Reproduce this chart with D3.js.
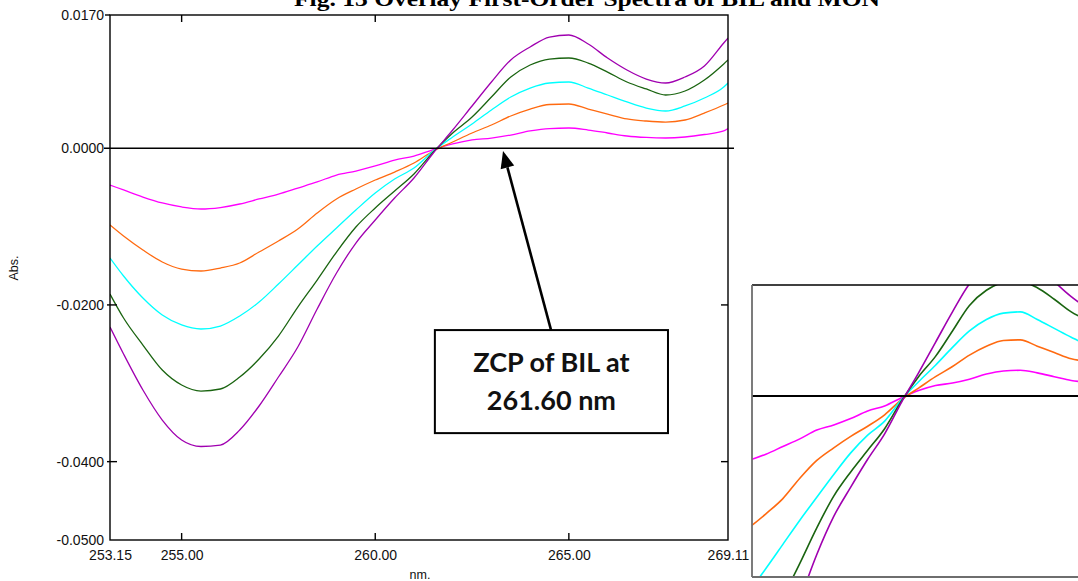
<!DOCTYPE html>
<html>
<head>
<meta charset="utf-8">
<script src="https://cdn.jsdelivr.net/npm/d3@7"></script>
<style>
  body { margin: 0; background: #fff; }
  svg { display: block; }
</style>
</head>
<body>
<svg id="chart" width="1078" height="581"></svg>
<script>
// Wavelength grid (nm) and first-order derivative absorbance of each solution
const wavelengths = [253.15, 253.5, 254.0, 254.5, 255.0, 255.5, 256.0, 256.5, 257.0, 257.5,
  258.0, 258.5, 259.0, 259.5, 260.0, 260.5, 261.0, 261.5, 262.0, 262.5,
  263.0, 263.5, 264.0, 264.5, 265.0, 265.5, 266.0, 266.5, 267.0, 267.5,
  268.0, 268.5, 269.0, 269.11];

const spectrum1 = [-0.00470, -0.00533, -0.00623, -0.00699, -0.00750, -0.00776, -0.00757, -0.00712, -0.00648, -0.00585,
  -0.00508, -0.00431, -0.00342, -0.00291, -0.00227, -0.00151, -0.00100, -0.00017, 0.00054, 0.00105,
  0.00130, 0.00168, 0.00220, 0.00251, 0.00258, 0.00232, 0.00194, 0.00156, 0.00137, 0.00130,
  0.00143, 0.00175, 0.00220, 0.00251];

const spectrum2 = [-0.00980, -0.01121, -0.01299, -0.01452, -0.01542, -0.01567, -0.01529, -0.01465, -0.01325, -0.01184,
  -0.01031, -0.00827, -0.00648, -0.00521, -0.00406, -0.00304, -0.00189, -0.00036, 0.00079, 0.00194,
  0.00296, 0.00411, 0.00500, 0.00558, 0.00564, 0.00500, 0.00436, 0.00373, 0.00347, 0.00334,
  0.00360, 0.00449, 0.00551, 0.00577];

const spectrum3 = [-0.01401, -0.01631, -0.01912, -0.02129, -0.02256, -0.02307, -0.02269, -0.02141, -0.01963, -0.01733,
  -0.01491, -0.01248, -0.01018, -0.00789, -0.00572, -0.00393, -0.00253, -0.00036, 0.00143, 0.00309,
  0.00488, 0.00653, 0.00768, 0.00832, 0.00845, 0.00768, 0.00679, 0.00590, 0.00513, 0.00475,
  0.00539, 0.00641, 0.00781, 0.00832];

const spectrum4 = [-0.01861, -0.02167, -0.02512, -0.02831, -0.03022, -0.03099, -0.03073, -0.02920, -0.02690, -0.02397,
  -0.02027, -0.01682, -0.01325, -0.01006, -0.00763, -0.00546, -0.00329, -0.00048, 0.00194, 0.00398,
  0.00653, 0.00909, 0.01062, 0.01138, 0.01151, 0.01087, 0.00972, 0.00845, 0.00756, 0.00679,
  0.00730, 0.00870, 0.01075, 0.01126];

const spectrum5 = [-0.02282, -0.02626, -0.03086, -0.03469, -0.03724, -0.03807, -0.03788, -0.03596, -0.03290, -0.02920,
  -0.02537, -0.02052, -0.01593, -0.01210, -0.00916, -0.00636, -0.00380, -0.00061, 0.00232, 0.00539,
  0.00845, 0.01126, 0.01292, 0.01419, 0.01445, 0.01330, 0.01151, 0.00998, 0.00883, 0.00832,
  0.00909, 0.01049, 0.01343, 0.01406];

const seriesColors = ["#ff00ff", "#ff6a10", "#00ffff", "#1a6410", "#a000b0"];

const xTickValues = [253.15, 255.00, 260.00, 265.00, 269.11];
const yTickValues = [0.0170, 0.0000, -0.0200, -0.0400, -0.0500];

const titleText = "Fig. 13 Overlay First-Order Spectra of BIL and MON";
const xAxisLabel = "nm.";
const yAxisLabel = "Abs.";
const calloutLines = ["ZCP of BIL at", "261.60 nm"];

// ---- layout ----
const plot = { left: 110, right: 728, top: 15, bottom: 540 };
const inset = { left: 752, right: 1078, top: 285, bottom: 577 };

const svg = d3.select("#chart");
const allSeries = [spectrum1, spectrum2, spectrum3, spectrum4, spectrum5]
  .map((vals, i) => ({ color: seriesColors[i], points: wavelengths.map((w, j) => [w, vals[j]]) }));

const x = d3.scaleLinear().domain([253.15, 269.11]).range([plot.left, plot.right]);
const y = d3.scaleLinear().domain([-0.05, 0.017]).range([plot.bottom, plot.top]);

// Title (runs up against the top edge of the page)
svg.append("text")
  .attr("x", 294).attr("y", 6)
  .attr("textLength", 586).attr("lengthAdjust", "spacingAndGlyphs")
  .style("font-family", "'Liberation Serif', 'Times New Roman', serif")
  .style("font-weight", "bold").style("font-size", "21px")
  .text(titleText);

// Clip for the main plot
const defs = svg.append("defs");
defs.append("clipPath").attr("id", "mainClip").append("rect")
  .attr("x", plot.left).attr("y", plot.top)
  .attr("width", plot.right - plot.left).attr("height", plot.bottom - plot.top);

const line = d3.line().x(d => x(d[0])).y(d => y(d[1])).curve(d3.curveMonotoneX);

svg.append("g").attr("clip-path", "url(#mainClip)")
  .selectAll("path").data(allSeries).join("path")
  .attr("d", d => line(d.points))
  .attr("fill", "none").attr("stroke", d => d.color).attr("stroke-width", 1.3);

// Zero line
svg.append("line")
  .attr("x1", plot.left - 6).attr("x2", plot.right + 6)
  .attr("y1", y(0)).attr("y2", y(0))
  .attr("stroke", "#000").attr("stroke-width", 1.4);

// Frame
svg.append("rect")
  .attr("x", plot.left).attr("y", plot.top)
  .attr("width", plot.right - plot.left).attr("height", plot.bottom - plot.top)
  .attr("fill", "none").attr("stroke", "#000").attr("stroke-width", 1.4);

// Axis labels via d3 axes (tick marks drawn separately); plain hyphen for negatives
const labelFont = "'Liberation Sans', Arial, sans-serif";
const fmtY = v => d3.format(".4f")(v).replace("\u2212", "-");
const fmtX = v => d3.format(".2f")(v);
const yAxis = svg.append("g").attr("transform", `translate(${plot.left},0)`)
  .call(d3.axisLeft(y).tickValues(yTickValues).tickFormat(fmtY).tickSize(0).tickPadding(6));
const xAxis = svg.append("g").attr("transform", `translate(0,${plot.bottom})`)
  .call(d3.axisBottom(x).tickValues(xTickValues).tickFormat(fmtX).tickSize(0).tickPadding(10));
[yAxis, xAxis].forEach(g => {
  g.select(".domain").remove();
  g.selectAll("text").style("font-family", labelFont).style("font-size", "14px").attr("fill", "#111");
});

// Tick marks
function tick(x1, y1, x2, y2) {
  svg.append("line").attr("x1", x1).attr("y1", y1).attr("x2", x2).attr("y2", y2)
    .attr("stroke", "#000").attr("stroke-width", 1.4);
}
[-0.02, -0.04].forEach(v => { tick(plot.left - 3, y(v), plot.left + 7, y(v)); tick(plot.right - 7, y(v), plot.right, y(v)); });
[0.017].forEach(v => tick(plot.left - 5, y(v), plot.left, y(v)));
[255, 260, 265].forEach(v => { tick(x(v), plot.bottom, x(v), plot.bottom - 7); tick(x(v), plot.top, x(v), plot.top + 7); });

// Axis titles
svg.append("text").attr("x", (plot.left + plot.right) / 2 + 1).attr("y", 579)
  .attr("text-anchor", "middle")
  .style("font-family", labelFont).style("font-size", "12.5px").attr("fill", "#111")
  .text(xAxisLabel);
svg.append("text").attr("transform", `translate(18,268) rotate(-90)`)
  .attr("text-anchor", "middle")
  .style("font-family", labelFont).style("font-size", "12.5px").attr("fill", "#111")
  .text(yAxisLabel);

// Callout box and arrow pointing at the zero-crossing wavelength
const box = { x0: 261.54, x1: 267.56, y0: -0.02321, y1: -0.03636 };
const arrowTail = [264.54, box.y0];
const arrowTip = [263.30, -0.00035];

svg.append("rect")
  .attr("x", x(box.x0)).attr("y", y(box.y0))
  .attr("width", x(box.x1) - x(box.x0)).attr("height", y(box.y1) - y(box.y0))
  .attr("fill", "#fff").attr("stroke", "#000").attr("stroke-width", 2);

const cx = (x(box.x0) + x(box.x1)) / 2;
svg.selectAll("text.callout").data(calloutLines).join("text")
  .attr("class", "callout")
  .attr("x", cx).attr("y", (d, i) => y(box.y0) + 42 + i * 38)
  .attr("text-anchor", "middle")
  .style("font-family", "Lato, 'Open Sans', sans-serif").style("font-weight", "bold").style("font-size", "27px")
  .attr("fill", "#111")
  .text(d => d);

{
  const tx = x(arrowTip[0]), ty = y(arrowTip[1]);
  const sx = x(arrowTail[0]), sy = y(arrowTail[1]);
  const ang = Math.atan2(ty - sy, tx - sx);
  const headLen = 17, headHalf = 7;
  const bx = tx - headLen * Math.cos(ang), by = ty - headLen * Math.sin(ang);
  svg.append("line").attr("x1", sx).attr("y1", sy).attr("x2", bx).attr("y2", by)
    .attr("stroke", "#000").attr("stroke-width", 2.6);
  const px = -Math.sin(ang), py = Math.cos(ang);
  svg.append("path")
    .attr("d", `M${tx},${ty}L${bx + px * headHalf},${by + py * headHalf}L${bx - px * headHalf},${by - py * headHalf}Z`)
    .attr("fill", "#000");
}

// ---- magnified view around the zero-crossing point ----
const xi = d3.scaleLinear().domain([257.09, 266.70]).range([inset.left, inset.right]);
const yi = d3.scaleLinear().domain([-0.01819, 0.01115]).range([inset.bottom, inset.top]);
const lineInset = d3.line().x(d => xi(d[0])).y(d => yi(d[1])).curve(d3.curveMonotoneX);

defs.append("clipPath").attr("id", "insetClip").append("rect")
  .attr("x", inset.left).attr("y", inset.top)
  .attr("width", inset.right - inset.left + 20).attr("height", inset.bottom - inset.top);

svg.append("rect").attr("x", inset.left).attr("y", inset.top)
  .attr("width", inset.right - inset.left + 20).attr("height", inset.bottom - inset.top)
  .attr("fill", "#fff");

svg.append("g").attr("clip-path", "url(#insetClip)")
  .selectAll("path").data(allSeries).join("path")
  .attr("d", d => lineInset(d.points))
  .attr("fill", "none").attr("stroke", d => d.color).attr("stroke-width", 1.6);

svg.append("line").attr("x1", inset.left).attr("x2", inset.right + 5)
  .attr("y1", yi(0)).attr("y2", yi(0)).attr("stroke", "#000").attr("stroke-width", 2);
svg.append("line").attr("x1", inset.left).attr("x2", inset.right + 5)
  .attr("y1", inset.top).attr("y2", inset.top).attr("stroke", "#000").attr("stroke-width", 1.6);
svg.append("line").attr("x1", inset.left).attr("x2", inset.left)
  .attr("y1", inset.top).attr("y2", inset.bottom).attr("stroke", "#6e6e6e").attr("stroke-width", 1.8);
svg.append("line").attr("x1", inset.left).attr("x2", inset.right + 5)
  .attr("y1", inset.bottom).attr("y2", inset.bottom).attr("stroke", "#6e6e6e").attr("stroke-width", 1.8);
</script>
</body>
</html>
